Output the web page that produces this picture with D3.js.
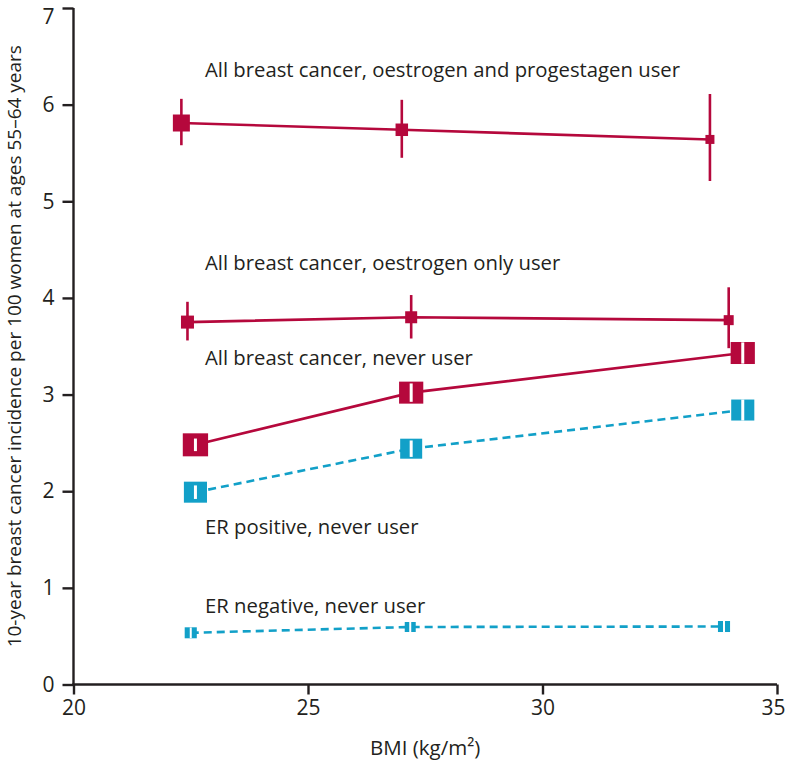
<!DOCTYPE html>
<html>
<head>
<meta charset="utf-8">
<script src="https://cdn.jsdelivr.net/npm/d3@7"></script>
<style>
  html, body { margin: 0; padding: 0; background: #fff; }
  text { font-family: "Open Sans", "Noto Sans", sans-serif; fill: #231f20; }
</style>
</head>
<body>
<svg id="chart" width="788" height="764"></svg>
<script>
// ---- data ----
const xTicks = [20, 25, 30, 35];
const yTicks = [0, 1, 2, 3, 4, 5, 6, 7];
const xLabel = "BMI (kg/m²)";
const yLabel = "10-year breast cancer incidence per 100 women at ages 55–64 years";

const epBmi   = [22.3, 27.0, 33.57];
const epValue = [5.81, 5.74, 5.64];
const epLow   = [5.58, 5.45, 5.21];
const epHigh  = [6.06, 6.05, 6.11];

const eoBmi   = [22.43, 27.2, 33.97];
const eoValue = [3.75, 3.80, 3.77];
const eoLow   = [3.56, 3.58, 3.48];
const eoHigh  = [3.96, 4.03, 4.11];

const nuBmi   = [22.6, 27.2, 34.27];
const nuValue = [2.48, 3.02, 3.43];
const nuLow   = [2.415, 2.925, 3.32];
const nuHigh  = [2.545, 3.115, 3.54];

const erpBmi   = [22.6, 27.2, 34.27];
const erpValue = [1.99, 2.44, 2.84];
const erpLow   = [1.92, 2.355, 2.73];
const erpHigh  = [2.06, 2.525, 2.95];

const ernBmi   = [22.5, 27.18, 33.87];
const ernValue = [0.535, 0.595, 0.60];
const ernLow   = [0.48, 0.54, 0.54];
const ernHigh  = [0.59, 0.65, 0.66];

const seriesLabels = [
  "All breast cancer, oestrogen and progestagen user",
  "All breast cancer, oestrogen only user",
  "All breast cancer, never user",
  "ER positive, never user",
  "ER negative, never user"
];

// ---- styles ----
const RED = "#b5083c", BLUE = "#12a0c8", INK = "#231f20";
const series = [
  { bmi: epBmi,  v: epValue,  lo: epLow,  hi: epHigh,  color: RED,  dash: null,  sizes: [17, 12.5, 9],  inner: false, label: seriesLabels[0], lx: 205, ly: 77 },
  { bmi: eoBmi,  v: eoValue,  lo: eoLow,  hi: eoHigh,  color: RED,  dash: null,  sizes: [13, 12, 10],   inner: false, label: seriesLabels[1], lx: 205, ly: 270 },
  { bmi: nuBmi,  v: nuValue,  lo: nuLow,  hi: nuHigh,  color: RED,  dash: null,  sizes: [23, 22, 22],   inner: true,  label: seriesLabels[2], lx: 205, ly: 365 },
  { bmi: erpBmi, v: erpValue, lo: erpLow, hi: erpHigh, color: BLUE, dash: "8,5", sizes: [21, 20, 21],   inner: true,  label: seriesLabels[3], lx: 205, ly: 534 },
  { bmi: ernBmi, v: ernValue, lo: ernLow, hi: ernHigh, color: BLUE, dash: "8,5", sizes: [11, 10, 11],   inner: true,  label: seriesLabels[4], lx: 205, ly: 613 }
];

const svg = d3.select("#chart");
const x = d3.scaleLinear().domain([20, 35]).range([73.5, 777]);
const y = d3.scaleLinear().domain([0, 7]).range([684.5, 8]);

// axes
const xAxis = svg.append("g").attr("transform", `translate(0,${y(0)})`)
  .call(d3.axisBottom(x).tickValues(xTicks).tickFormat(d3.format("d")).tickSize(10).tickPadding(6).tickSizeOuter(0));
const yAxis = svg.append("g").attr("transform", `translate(${x(20)},0)`)
  .call(d3.axisLeft(y).tickValues(yTicks).tickFormat(d3.format("d")).tickSize(11).tickPadding(6).tickSizeOuter(0));
[xAxis, yAxis].forEach(g => {
  g.select(".domain").attr("stroke", INK).attr("stroke-width", 2.4);
  g.selectAll(".tick line").attr("stroke", INK).attr("stroke-width", 2.4);
  g.selectAll(".tick text").attr("fill", INK).style("font-size", "21px")
    .style("font-family", "'Open Sans', sans-serif");
});
xAxis.select(".domain").attr("d", `M${x(20) - 1.2},0H${x(35)}`);
yAxis.select(".domain").attr("d", `M0,${y(7)}V${y(0) + 1.2}`);
yAxis.selectAll(".tick text").attr("dx", "-2");
// keep the edge labels inside the frame
yAxis.selectAll(".tick").filter(d => d === 7).select("text").attr("dy", "0.75em");
xAxis.selectAll(".tick").filter(d => d === 35).select("text").attr("dx", "-4");

// axis titles
svg.append("text").attr("x", (x(20) + x(35)) / 2).attr("y", 755)
  .attr("text-anchor", "middle").style("font-size", "20.5px").text(xLabel);
svg.append("text").attr("transform", `translate(21,${(y(0) + y(7)) / 2}) rotate(-90)`)
  .attr("text-anchor", "middle").style("font-size", "19px").text(yLabel);

// series
series.forEach((s) => {
  const pts = s.v.map((v, i) => ({ x: s.bmi[i], v, lo: s.lo[i], hi: s.hi[i], size: s.sizes[i] }));
  const g = svg.append("g");
  g.append("path").datum(pts)
    .attr("d", d3.line().x(d => x(d.x)).y(d => y(d.v)))
    .attr("fill", "none").attr("stroke", s.color).attr("stroke-width", 2.6)
    .attr("stroke-dasharray", s.dash);
  if (!s.inner) {
    g.selectAll(".ci").data(pts).join("line")
      .attr("x1", d => x(d.x)).attr("x2", d => x(d.x))
      .attr("y1", d => y(d.hi)).attr("y2", d => y(d.lo))
      .attr("stroke", s.color).attr("stroke-width", 2.6);
  }
  g.selectAll(".box").data(pts).join("rect")
    .attr("x", d => x(d.x) - d.size * (s.inner ? 0.55 : 0.5))
    .attr("y", d => y(d.v) - d.size / 2)
    .attr("width", d => d.size * (s.inner ? 1.1 : 1))
    .attr("height", d => d.size)
    .attr("fill", s.color);
  if (s.inner) {
    g.selectAll(".wci").data(pts).join("line")
      .attr("x1", d => x(d.x)).attr("x2", d => x(d.x))
      .attr("y1", d => Math.max(y(d.hi), y(d.v) - d.size / 2))
      .attr("y2", d => Math.min(y(d.lo), y(d.v) + d.size / 2))
      .attr("stroke", "#fff").attr("stroke-width", d => d.size > 15 ? 3 : 2);
  }
  svg.append("text").attr("x", s.lx).attr("y", s.ly)
    .style("font-size", "20.3px").text(s.label);
});
</script>
</body>
</html>
